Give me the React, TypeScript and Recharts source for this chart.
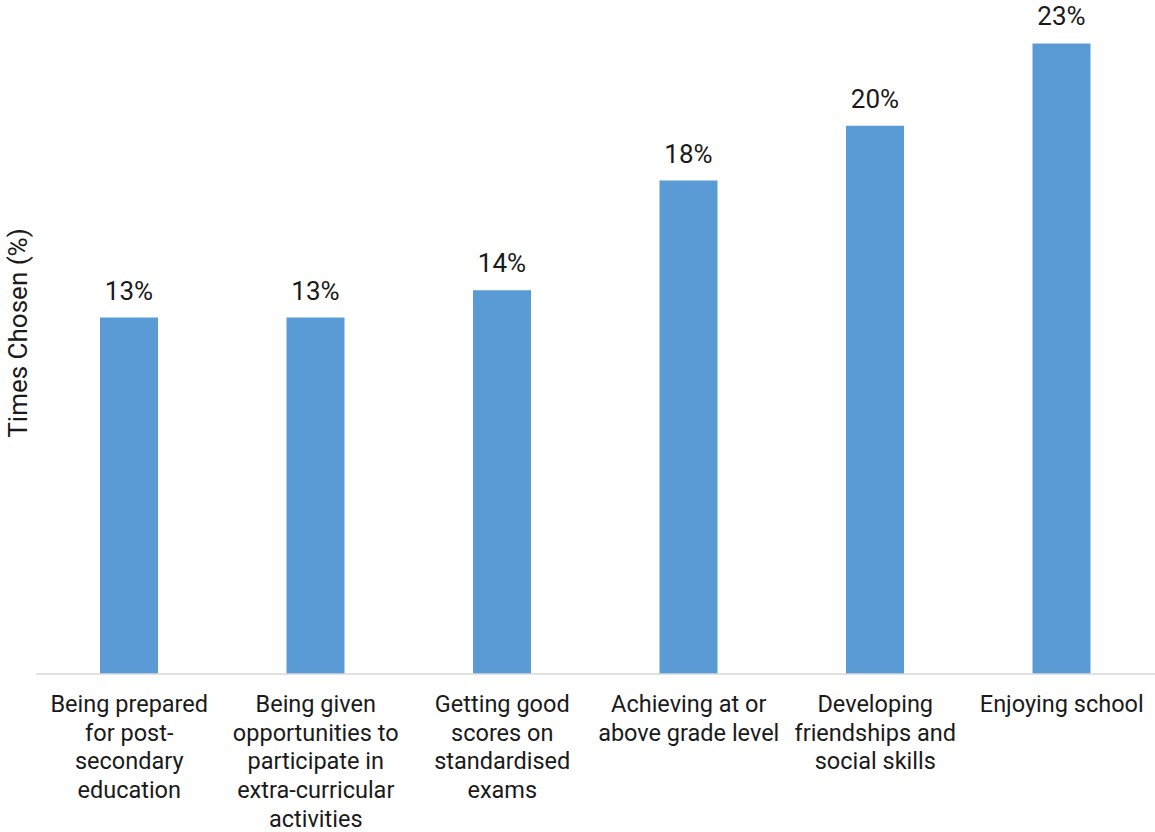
import { BarChart, Bar, XAxis, YAxis, LabelList, Label } from "recharts";

// categories, "\n" marks the line breaks of the axis labels
const CATEGORIES = [
  "Being prepared\nfor post-\nsecondary\neducation",
  "Being given\nopportunities to\nparticipate in\nextra-curricular\nactivities",
  "Getting good\nscores on\nstandardised\nexams",
  "Achieving at or\nabove grade level",
  "Developing\nfriendships and\nsocial skills",
  "Enjoying school",
];
const TIMES_CHOSEN = [13, 13, 14, 18, 20, 23];

const data = CATEGORIES.map((name, i) => ({ name, value: TIMES_CHOSEN[i] }));

const FONT = "Roboto, sans-serif";

function WrappedTick({ x, y, payload }: any) {
  const lines = String(payload.value).split("\n");
  return (
    <text x={x} y={y + 30} textAnchor="middle" fontSize={23.5} fill="#1a1a1a" fontFamily={FONT}>
      {lines.map((line, i) => (
        <tspan key={i} x={x} dy={i === 0 ? 0 : 28.7}>
          {line}
        </tspan>
      ))}
    </text>
  );
}

function YTitle({ viewBox }: any) {
  const cx = 18;
  const cy = viewBox.y + viewBox.height / 2 - 12;
  return (
    <text
      x={cx}
      y={cy}
      transform={`rotate(-90 ${cx} ${cy})`}
      textAnchor="middle"
      dominantBaseline="central"
      fontSize={26}
      fill="#1a1a1a"
      fontFamily={FONT}
    >
      Times Chosen (%)
    </text>
  );
}

export default function App() {
  return (
    <div style={{ position: "absolute", left: 0, top: 0, background: "#fff" }}>
      <BarChart
        width={1155}
        height={832}
        data={data}
        margin={{ top: 16, right: 0, bottom: 0, left: 0 }}
        barCategoryGap={0}
      >
        <XAxis
          dataKey="name"
          axisLine={{ stroke: "#d9d9d9", strokeWidth: 1.5 }}
          tickLine={false}
          interval={0}
          height={158}
          tick={<WrappedTick />}
        />
        <YAxis domain={[0, 24]} width={36} axisLine={false} tickLine={false} tick={false}>
          <Label content={<YTitle />} />
        </YAxis>
        <Bar dataKey="value" fill="#5b9bd5" barSize={58} isAnimationActive={false}>
          <LabelList
            dataKey="value"
            position="top"
            offset={18}
            formatter={(v: any) => `${v}%`}
            fontSize={26}
            fill="#1a1a1a"
            fontFamily={FONT}
          />
        </Bar>
      </BarChart>
    </div>
  );
}
